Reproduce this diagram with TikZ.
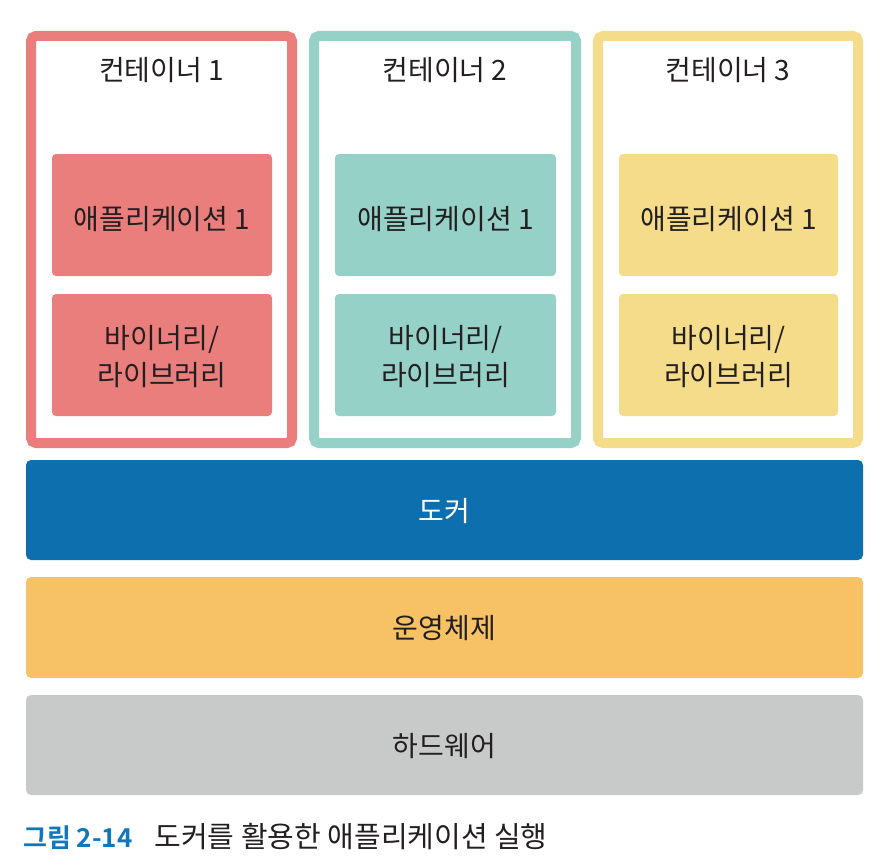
\documentclass[tikz,border=0pt]{standalone}
\usepackage{fontspec}
\setmainfont{Noto Sans CJK KR}
\newfontfamily\capbold{Noto Sans CJK KR Bold}
\definecolor{cred}{HTML}{E97E7C}
\definecolor{cteal}{HTML}{96D1C7}
\definecolor{cyellow}{HTML}{F4DC8A}
\definecolor{cdocker}{HTML}{0D6FAD}
\definecolor{cos}{HTML}{F7C165}
\definecolor{chw}{HTML}{C8C9C9}
\definecolor{ccap}{HTML}{1177BB}
\definecolor{ctext}{HTML}{231F20}
\tikzset{
  contbox/.style={line width=10pt, rounded corners=5pt, fill=white},
  innerbox/.style={rounded corners=4pt, draw=none},
  barbox/.style={rounded corners=5pt, draw=none},
  lbl/.style={font=\fontsize{28}{37}\selectfont, text=ctext, align=center, inner sep=0pt},
}
\begin{document}
\begin{tikzpicture}[x=1pt,y=-1pt]
\useasboundingbox (0,0) rectangle (895,867);
% containers
\foreach \i/\xl/\xr/\col in {1/26/297/cred, 2/309/581/cteal, 3/593/863/cyellow}{
  \draw[contbox, draw=\col] (\xl+5,36) rectangle (\xr-5,443);
  \fill[innerbox, fill=\col] (\xl+26,154) rectangle (\xr-25,276);
  \fill[innerbox, fill=\col] (\xl+26,294) rectangle (\xr-25,416);
  \node[lbl] (t\i) at ({(\xl+\xr)/2},70) {컨테이너 \i};
  \node[lbl] (a\i) at ({(\xl+\xr)/2+0.5},219) {애플리케이션 1};
  \node[lbl] (b\i) at ({(\xl+\xr)/2+0.5},357) {바이너리/\\라이브러리};
}
% bars
\fill[barbox, fill=cdocker] (26,460) rectangle (863,560);
\node[lbl, text=white] (docker) at (444.5,511) {도커};
\fill[barbox, fill=cos] (26,577) rectangle (863,678);
\node[lbl] (os) at (444.5,628.5) {운영체제};
\fill[barbox, fill=chw] (26,695) rectangle (863,795);
\node[lbl] (hw) at (444.5,746) {하드웨어};
% caption
\node[anchor=base west, inner sep=0pt, font=\fontsize{29}{32}\selectfont, text=ctext] (cap) at (23,847)
  {{\capbold\fontsize{26}{30}\selectfont\color{ccap}그림 2-14}\hspace{22pt}도커를 활용한 애플리케이션 실행};
\end{tikzpicture}
\end{document}
